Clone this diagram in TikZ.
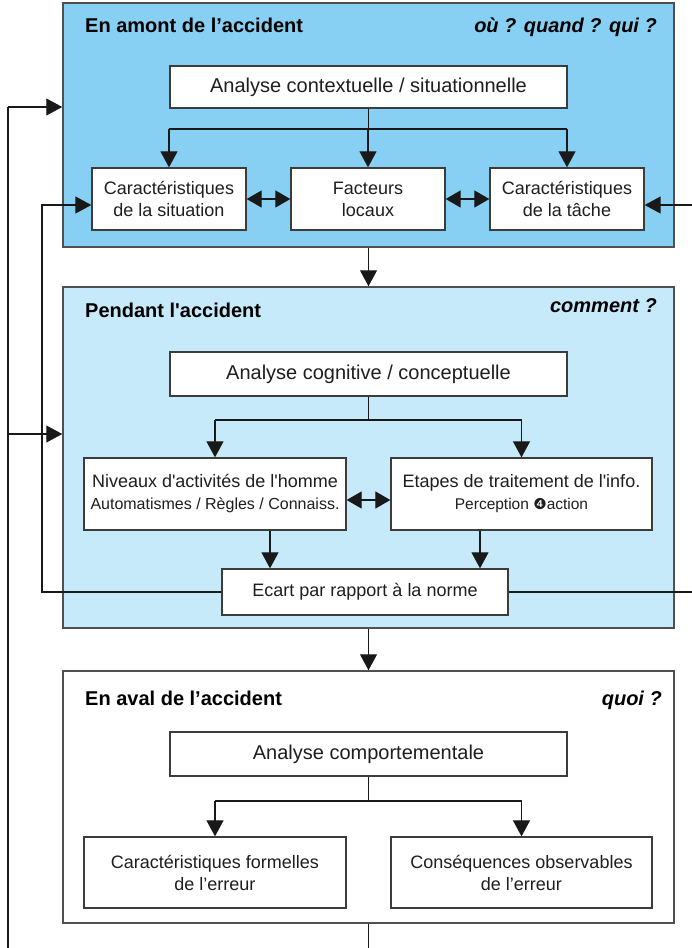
\documentclass[tikz,border=0pt]{standalone}
\usepackage{fontspec}
\setmainfont{Liberation Sans}
\newfontfamily\dejavu{DejaVu Sans}
\usetikzlibrary{arrows.meta}
\definecolor{topfill}{RGB}{135,208,243}
\definecolor{midfill}{RGB}{199,234,251}
\definecolor{bordc}{RGB}{60,60,60}
\definecolor{outc}{RGB}{80,80,80}
\definecolor{txtc}{RGB}{30,30,30}
\newcommand{\apo}{\textquotesingle}
\tikzset{
  zone/.style={draw=outc, line width=1.5pt, inner sep=0pt},
  bx/.style={draw=bordc, line width=1.3pt, fill=white, inner sep=0pt, align=center, text=txtc,
    font=\fontsize{18}{22}\selectfont},
  bigbx/.style={bx, font=\fontsize{20}{24}\selectfont},
  ttl/.style={inner sep=0pt, anchor=base west, font=\bfseries\fontsize{20}{24}\selectfont},
  qst/.style={inner sep=0pt, anchor=base east, font=\bfseries\itshape\fontsize{20}{24}\selectfont},
  ln/.style={draw=black!90, line width=1.2pt},
  arr/.style={ln, -{Triangle[length=16pt,width=17pt]}},
  darr/.style={ln, {Triangle[length=15pt,width=17pt]}-{Triangle[length=15pt,width=17pt]}},
}
\begin{document}
\begin{tikzpicture}[x=1pt, y=-1pt]
\useasboundingbox (0,0) rectangle (692,948);
% zones
\node[zone, fill=topfill, minimum width=611pt, minimum height=244pt] (amont) at (368.5,125) {};
\node[zone, fill=midfill, minimum width=611pt, minimum height=341pt] (pend) at (368.5,457.5) {};
\node[zone, fill=white, minimum width=611pt, minimum height=252pt] (aval) at (368.5,797) {};
% titles
\node[ttl] (t1) at (85,32) {En amont de l’accident};
\node[qst] (q1) at (657,32) {où ? quand ? qui ?};
\node[ttl] (t2) at (85,317) {Pendant l\apo accident};
\node[qst] (q2) at (657,312) {comment ?};
\node[ttl] (t3) at (85,705) {En aval de l’accident};
\node[qst] (q3) at (662,705) {quoi ?};
% top boxes
\node[bigbx, minimum width=397pt, minimum height=42pt] (ctx) at (368.5,87) {Analyse contextuelle / situationnelle};
\node[bx, minimum width=154pt, minimum height=62pt] (situ) at (169,199) {Caractéristiques\\de la situation};
\node[bx, minimum width=154pt, minimum height=62pt] (loc) at (368,199) {Facteurs\\locaux};
\node[bx, minimum width=154pt, minimum height=62pt] (tache) at (567,199) {Caractéristiques\\de la tâche};
% middle boxes
\node[bigbx, minimum width=397pt, minimum height=44pt] (cog) at (368.5,374) {Analyse cognitive / conceptuelle};
\node[bx, minimum width=262pt, minimum height=72pt] (niv) at (215,494)
  {{\fontsize{18}{20}\selectfont Niveaux d\apo activités de l\apo homme}\\{\fontsize{16}{20}\selectfont Automatismes / Règles / Connaiss.}};
\node[bx, minimum width=261pt, minimum height=72pt] (eta) at (521.5,494)
  {{\fontsize{18}{20}\selectfont Etapes de traitement de l\apo info.}\\{\fontsize{15.5}{20}\selectfont Perception {\dejavu\fontsize{15}{16}\selectfont ❹}action}};
\node[bx, minimum width=286pt, minimum height=46pt] (ecart) at (365,592) {Ecart par rapport à la norme};
% bottom boxes
\node[bigbx, minimum width=397pt, minimum height=44pt] (comp) at (368.5,754) {Analyse comportementale};
\node[bx, minimum width=262pt, minimum height=71pt] (form) at (215,872.5) {Caractéristiques formelles\\de l’erreur};
\node[bx, minimum width=261pt, minimum height=71pt] (cons) at (521.5,872.5) {Conséquences observables\\de l’erreur};
% coordinates
\coordinate (ja) at (0,129);
\coordinate (jb) at (0,420);
\coordinate (jc) at (0,801);
\coordinate (li) at (42,205);
\coordinate (re) at (692,205);
\coordinate (re2) at (692,592);
\coordinate (ot) at (8,107);
\coordinate (om) at (8,434);
\coordinate (ob) at (8,948);
\coordinate (yd) at (0,500);
\coordinate (nx) at (270,0);
\coordinate (ex) at (480,0);
\coordinate (bend) at (0,948);
% top connectors
\draw[ln] (ctx.south) -- (ctx.south |- ja);
\draw[ln] (situ.north |- ja) -- (tache.north |- ja);
\draw[arr] (situ.north |- ja) -- (situ.north);
\draw[arr] (loc.north |- ja) -- (loc.north);
\draw[arr] (tache.north |- ja) -- (tache.north);
\draw[darr] (situ.east) -- (loc.west);
\draw[darr] (loc.east) -- (tache.west);
\draw[arr] (re) -- (tache.east |- re);
\draw[arr] (amont.south) -- (pend.north);
% middle connectors
\draw[ln] (cog.south) -- (cog.south |- jb);
\draw[ln] (niv.north |- jb) -- (eta.north |- jb);
\draw[arr] (niv.north |- jb) -- (niv.north);
\draw[arr] (eta.north |- jb) -- (eta.north);
\draw[darr] (niv.east |- yd) -- (eta.west |- yd);
\draw[arr] (niv.south -| nx) -- (ecart.north -| nx);
\draw[arr] (eta.south -| ex) -- (ecart.north -| ex);
\draw[arr] (ecart.west) -| (li) -- (situ.west |- li);
\draw[ln] (ecart.east) -- (re2);
\draw[arr] (pend.south) -- (aval.north);
% bottom connectors
\draw[ln] (comp.south) -- (comp.south |- jc);
\draw[ln] (form.north |- jc) -- (cons.north |- jc);
\draw[arr] (form.north |- jc) -- (form.north);
\draw[arr] (cons.north |- jc) -- (cons.north);
\draw[ln] (aval.south) -- (aval.south |- bend);
% outer loop
\draw[ln] (ob) -- (ot);
\draw[arr] (ot) -- (amont.west |- ot);
\draw[arr] (om) -- (pend.west |- om);
\end{tikzpicture}
\end{document}
